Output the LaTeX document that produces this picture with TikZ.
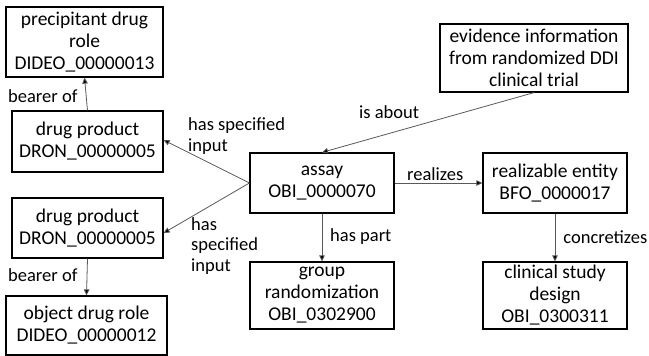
\documentclass[tikz,border=0pt]{standalone}
\usepackage{fontspec}
\setmainfont{Carlito}
\usetikzlibrary{arrows.meta}
\tikzset{
  box/.style={draw=black, line width=1.2pt, align=center, inner sep=0pt,
    font=\fontsize{19.5}{22}\selectfont},
  lbl/.style={align=left, inner sep=0pt, font=\fontsize{18.5}{20.5}\selectfont},
  conn/.style={draw=black!65, line width=0.8pt, -{Triangle[width=5.5pt,length=6pt,fill=black]}}
}
\begin{document}
\begin{tikzpicture}[x=1pt,y=-1pt]
\useasboundingbox (0,0) rectangle (649,356);
\node[box, minimum width=157pt, minimum height=70pt] (prec) at (84.5,42) {precipitant drug\\role\\DIDEO\_00000013};
\node[box, minimum width=151pt, minimum height=61pt] (dp1) at (87.5,141.5) {drug product\\DRON\_00000005};
\node[box, minimum width=151pt, minimum height=60pt] (dp2) at (87.5,228) {drug product\\DRON\_00000005};
\node[box, minimum width=161pt, minimum height=59pt] (obj) at (86.5,325.5) {object drug role\\DIDEO\_00000012};
\node[box, minimum width=144pt, minimum height=60pt] (assay) at (322,183) {assay\\OBI\_0000070};
\node[box, minimum width=188pt, minimum height=68pt] (evid) at (534,58) {evidence information\\from randomized DDI\\clinical trial};
\node[box, minimum width=144pt, minimum height=60pt] (real) at (555,183) {realizable entity\\BFO\_0000017};
\node[box, minimum width=144pt, minimum height=67pt] (group) at (322,295.5) {group\\randomization\\OBI\_0302900};
\node[box, minimum width=144pt, minimum height=67pt] (clin) at (555,295.5) {clinical study\\design\\OBI\_0300311};

\draw[conn] (dp1.north) -- (prec.south);
\draw[conn] (assay.west) -- ([yshift=1.5pt]dp1.east);
\draw[conn] (assay.west) -- ([yshift=-5pt]dp2.east);
\draw[conn] (evid.south) -- (assay.north);
\draw[conn] (assay.east) -- (real.west);
\draw[conn] (assay.south) -- (group.north);
\draw[conn] (real.south) -- (clin.north);
\draw[conn] (dp2.south) -- (obj.north);

\node[lbl, anchor=west] (l1) at (8,96) {bearer of};
\node[lbl, anchor=west] (l2) at (188,136) {has specified\\input};
\node[lbl, anchor=west] (l3) at (359,112) {is about};
\node[lbl, anchor=west] (l4) at (407,174) {realizes};
\node[lbl, anchor=west] (l5) at (330,237) {has part};
\node[lbl, anchor=east] (l6) at (647.5,237) {concretizes};
\node[lbl, anchor=west] (l7) at (8,275) {bearer of};
\node[lbl, anchor=west] (l8) at (191,246) {has\\specified\\input};
\end{tikzpicture}
\end{document}
